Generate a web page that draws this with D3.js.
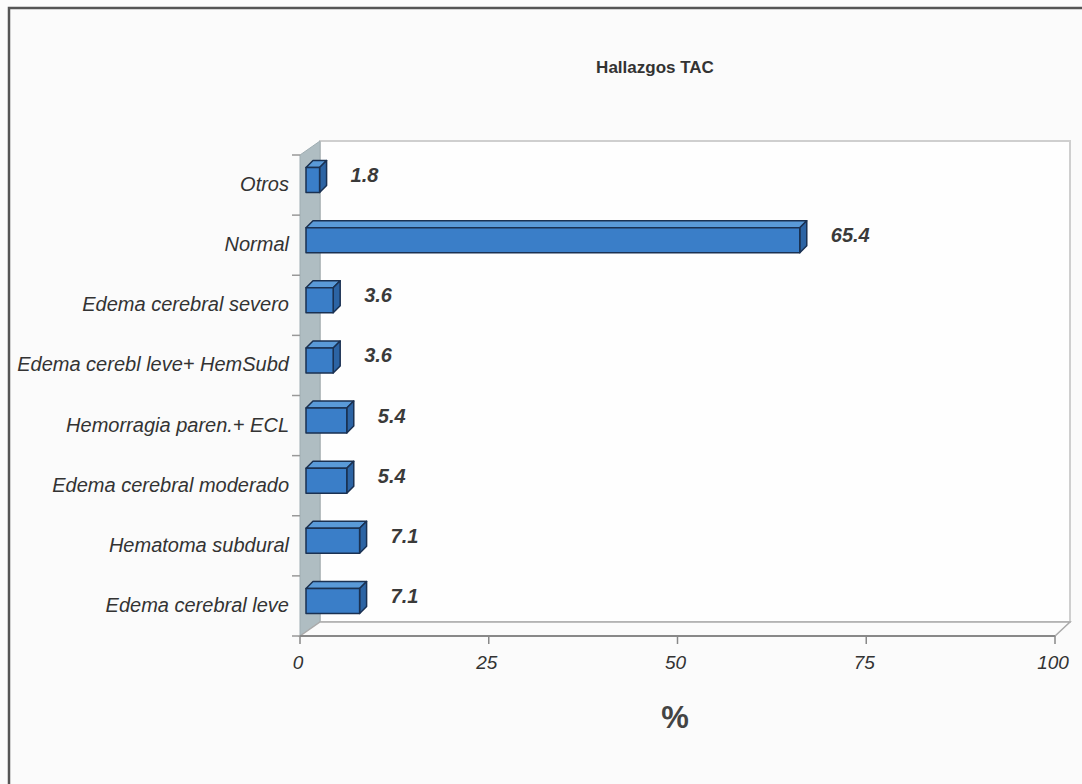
<!DOCTYPE html>
<html><head><meta charset="utf-8">
<script src="https://cdn.jsdelivr.net/npm/d3@7"></script>
<style>html,body{margin:0;padding:0;background:#fff;}svg{display:block;}</style>
</head><body>
<script>
const categories = ["Otros","Normal","Edema cerebral severo","Edema cerebl leve+ HemSubd","Hemorragia paren.+ ECL","Edema cerebral moderado","Hematoma subdural","Edema cerebral leve"];
const values = [1.8, 65.4, 3.6, 3.6, 5.4, 5.4, 7.1, 7.1];
const xTicks = [0, 25, 50, 75, 100];
const title = "Hallazgos TAC";
const xLabel = "%";

(function(){
const W = 1082, H = 784;
const FONT = "Liberation Sans, Arial, sans-serif";
const svg = d3.select("body").append("svg").attr("width", W).attr("height", H);
svg.append("rect").attr("width", W).attr("height", H).attr("fill", "#fbfbfb");
// outer frame
svg.append("path").attr("d", `M9,${H} L9,8 L${W},8`).attr("fill","none").attr("stroke","#555").attr("stroke-width",2.5);

const x = d3.scaleLinear().domain([0,100]).range([300,1055]);
const y = d3.scaleBand().domain(categories).range([155,636]);
const wdx = 15, wdy = -14; // wall depth offset
const yTop = y.range()[0], yBot = y.range()[1];

// back wall
svg.append("rect").attr("x", x(0)+wdx+5).attr("y", yTop+wdy).attr("width", x(100)-x(0)-5).attr("height", yBot-yTop)
  .attr("fill","#fefefe").attr("stroke","#cfcfcf").attr("stroke-width",2);
// left wall
svg.append("path").attr("d", `M${x(0)},${yTop} L${x(0)+wdx+5},${yTop+wdy} L${x(0)+wdx+5},${yBot+wdy} L${x(0)},${yBot} Z`)
  .attr("fill","#afbdc2").attr("stroke","#9fadb2").attr("stroke-width",1);
// floor
svg.append("path").attr("d", `M${x(0)},${yBot} L${x(0)+wdx+5},${yBot+wdy} L${x(100)+wdx},${yBot+wdy} L${x(100)},${yBot} Z`)
  .attr("fill","#fbfbfb").attr("stroke","#aaa").attr("stroke-width",1.5);
svg.append("line").attr("x1",x(0)).attr("x2",x(100)).attr("y1",yBot).attr("y2",yBot).attr("stroke","#888").attr("stroke-width",2);

// x ticks
const xg = svg.append("g");
xTicks.forEach(t => {
  xg.append("line").attr("x1",x(t)).attr("x2",x(t)).attr("y1",yBot).attr("y2",yBot+8).attr("stroke","#888").attr("stroke-width",1.5);
  xg.append("text").attr("x",x(t)-2).attr("y",yBot+33).attr("text-anchor","middle")
    .attr("font-family",FONT).attr("font-style","italic").attr("font-size",19).attr("fill","#333").text(t);
});
// y ticks at band boundaries
const bounds = categories.map(c => y(c)).concat([yBot]);
bounds.forEach(b => svg.append("line").attr("x1",x(0)-8).attr("x2",x(0)).attr("y1",b).attr("y2",b).attr("stroke","#999").attr("stroke-width",1.5));
// category labels
categories.forEach(c => svg.append("text").attr("x",289).attr("y",y(c)+y.bandwidth()/2+6).attr("text-anchor","end")
  .attr("font-family",FONT).attr("font-style","italic").attr("font-size",20).attr("fill","#333").text(c));

// bars
const bdx = 7, bdy = -7, bh = 25, offX = 6, offY = -5;
const bars = svg.append("g");
categories.forEach((c,i) => {
  const v = values[i];
  const x0 = x(0)+offX, x1 = x(v)+offX;
  const cy = y(c)+y.bandwidth()/2+offY;
  const y0 = cy - bh/2, y1 = cy + bh/2;
  const g = bars.append("g").attr("stroke","#1a3152").attr("stroke-width",1.5).attr("stroke-linejoin","round");
  g.append("path").attr("d",`M${x0},${y0} L${x0+bdx},${y0+bdy} L${x1+bdx},${y0+bdy} L${x1},${y0} Z`).attr("fill","#5a9ad8");
  g.append("path").attr("d",`M${x1},${y0} L${x1+bdx},${y0+bdy} L${x1+bdx},${y1+bdy} L${x1},${y1} Z`).attr("fill","#2c64a4");
  g.append("rect").attr("x",x0).attr("y",y0).attr("width",x1-x0).attr("height",bh).attr("fill","#3a7ec8");
  svg.append("text").attr("x",x1+bdx+24).attr("y",cy+2)
    .attr("font-family",FONT).attr("font-style","italic").attr("font-weight","bold").attr("font-size",20).attr("fill","#3a3a3a").text(v.toFixed(1));
});

// title
svg.append("text").attr("x",655).attr("y",73).attr("text-anchor","middle")
  .attr("font-family",FONT).attr("font-weight","bold").attr("font-size",17).attr("fill","#333").text(title);
// axis title
svg.append("text").attr("x",675).attr("y",728).attr("text-anchor","middle")
  .attr("font-family",FONT).attr("font-weight","bold").attr("font-size",31).attr("fill","#444").text(xLabel);
})();
</script>
</body></html>
